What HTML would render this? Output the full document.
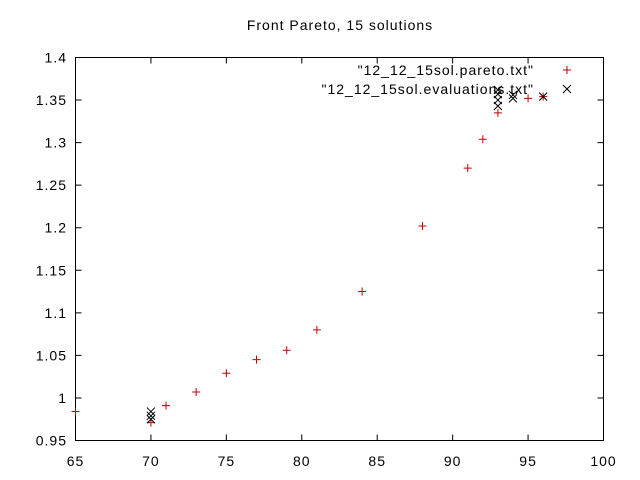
<!DOCTYPE html>
<html><head><meta charset="utf-8"><style>body{margin:0;background:#fff}svg{display:block;font-family:"Liberation Sans",sans-serif}text{letter-spacing:1px}</style></head>
<body>
<svg width="640" height="480" viewBox="0 0 640 480" xmlns="http://www.w3.org/2000/svg">
<rect width="640" height="480" fill="#fff"/>
<text x="340" y="30" font-size="14" text-anchor="middle">Front Pareto, 15 solutions</text>
<rect x="75.5" y="57.5" width="528" height="383" fill="none" stroke="#000"/>
<g id="axes" font-size="14"></g>
<g id="marks"></g>
<text x="534" y="75" font-size="14" text-anchor="end">"12_12_15sol.pareto.txt"</text>
<text x="534" y="94" font-size="14" text-anchor="end">"12_12_15sol.evaluations.txt"</text>
</svg>
<script>
const xTicks=[65,70,75,80,85,90,95,100];
const yTicks=[0.95,1,1.05,1.1,1.15,1.2,1.25,1.3,1.35,1.4];
const yTickLabels=["0.95","1","1.05","1.1","1.15","1.2","1.25","1.3","1.35","1.4"];
const paretoX=[65,70,71,73,75,77,79,81,84,88,91,92,93,95,96];
const paretoY=[0.984,0.971,0.991,1.007,1.029,1.045,1.056,1.080,1.125,1.202,1.270,1.304,1.335,1.352,1.354];
const evalX=[70,70,70,93,93,93,93,94,94,96];
const evalY=[0.984,0.979,0.975,1.362,1.357,1.350,1.343,1.356,1.352,1.354];
const sx=v=>75.5+(v-65)*(528/35);
const sy=v=>440.5-(v-0.95)*(383/0.45);
const NS="http://www.w3.org/2000/svg";
const ax=document.getElementById('axes'),mk=document.getElementById('marks');
function el(t,a,p){const e=document.createElementNS(NS,t);for(const k in a)e.setAttribute(k,a[k]);p.appendChild(e);return e;}
xTicks.forEach(v=>{const x=sx(v);
 const l=el('path',{d:`M${x},440.5v-6M${x},57.5v6`,stroke:'#000'},ax);
 
 
 const t=el('text',{x:x,y:466,'text-anchor':'middle'},ax);t.textContent=v;
 
 });
yTicks.forEach((v,i)=>{const y=sy(v);
 const l=el('path',{d:`M75.5,${y}h6M603.5,${y}h-6`,stroke:'#000'},ax);
 
 
 const t=el('text',{x:67,y:y+5,'text-anchor':'end'},ax);t.textContent=yTickLabels[i];
 
 });
function plus(x,y,name){const p=el('path',{d:`M${x-4},${y}h8M${x},${y-4}v8`,stroke:'#c00000','stroke-width':1},mk);
 
 }
function cross(x,y,name){const p=el('path',{d:`M${x-4},${y-4}l8,8M${x-4},${y+4}l8,-8`,stroke:'#000','stroke-width':1},mk);
 
 }
paretoX.forEach((v,i)=>plus(sx(v),sy(paretoY[i]),'pareto-point'));
evalX.forEach((v,i)=>cross(sx(v),sy(evalY[i]),'evaluation-point'));
plus(567,70,'legend-pareto-sample');
cross(567,89,'legend-evaluation-sample');
</script>
</body></html>
